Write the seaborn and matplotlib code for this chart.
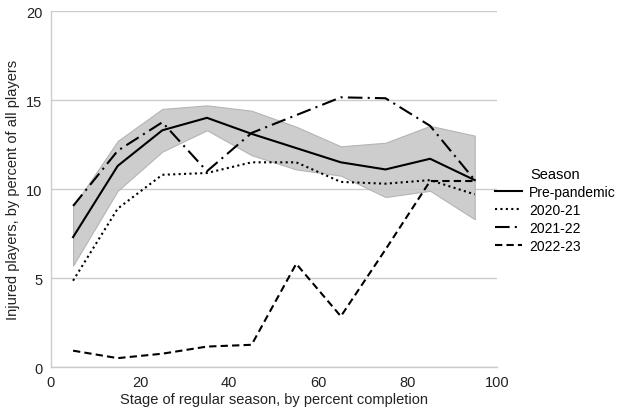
import pandas as pd
import matplotlib
matplotlib.use('Agg')
import matplotlib.pyplot as plt
import seaborn as sns

# Stage of season (percent completion, bin midpoints)
stage = [5, 15, 25, 35, 45, 55, 65, 75, 85, 95]

# Injured players, percent of all players
pre_pandemic = [7.3, 11.3, 13.3, 14.0, 13.1, 12.3, 11.5, 11.1, 11.7, 10.5]
pre_low = [5.7, 9.9, 12.1, 13.3, 11.9, 11.1, 10.75, 9.55, 9.9, 8.3]
pre_high = [9.0, 12.7, 14.5, 14.7, 14.4, 13.5, 12.4, 12.6, 13.55, 13.0]
s2020_21 = [4.85, 8.9, 10.8, 10.9, 11.5, 11.5, 10.4, 10.3, 10.5, 9.7]
s2021_22 = [9.05, 12.15, 13.75, 11.0, 13.15, 14.15, 15.15, 15.1, 13.55, 10.5]
s2022_23 = [0.92, 0.5, 0.75, 1.15, 1.25, 5.8, 2.85, 6.6, 10.45, 10.45]

seasons = ['Pre-pandemic', '2020-21', '2021-22', '2022-23']
values = [pre_pandemic, s2020_21, s2021_22, s2022_23]

# Long format for seaborn
rows = []
for name, vals in zip(seasons, values):
    for x, y in zip(stage, vals):
        rows.append({'stage': x, 'injured': y, 'Season': name})
df = pd.DataFrame(rows)

plt.rcParams['font.family'] = ['Liberation Sans', 'DejaVu Sans']

fig = plt.figure(figsize=(6.19, 4.14), dpi=100)
ax = fig.add_axes([0.082, 0.111, 0.721, 0.86])

# Pre-pandemic range band
ax.fill_between(stage, pre_low, pre_high, color='#c8c8c8', alpha=0.9, linewidth=0.8,
                edgecolor='#b0b0b0', zorder=1)

sns.lineplot(data=df, x='stage', y='injured', style='Season', style_order=seasons,
             dashes=['', (1, 1.6), (7, 2.5, 1, 2.5), (3.5, 2)],
             color='black', linewidth=1.5, ax=ax, zorder=3)

ax.set_xlim(0, 100)
ax.set_ylim(0, 20)
ax.set_xticks([0, 20, 40, 60, 80, 100])
ax.set_yticks([0, 5, 10, 15, 20])
ax.yaxis.grid(True, color='#cccccc', linewidth=1)
ax.set_axisbelow(True)
ax.tick_params(length=0, labelsize=10.5, colors='#222222', pad=6)
for side in ['top', 'right']:
    ax.spines[side].set_visible(False)
for side in ['left', 'bottom']:
    ax.spines[side].set_color('#cccccc')
    ax.spines[side].set_linewidth(1)

ax.set_xlabel('Stage of regular season, by percent completion', fontsize=10.5, color='#222222', labelpad=2)
ax.set_ylabel('Injured players, by percent of all players', fontsize=10.5, color='#222222', labelpad=4)

leg = ax.legend(title='Season', loc='upper left', bbox_to_anchor=(0.993, 0.565),
                frameon=False, fontsize=10, title_fontsize=10.5, handlelength=2.0,
                handletextpad=0.5, labelspacing=0.3, borderaxespad=0, borderpad=0.05)

fig.savefig('out.png', dpi=100)
